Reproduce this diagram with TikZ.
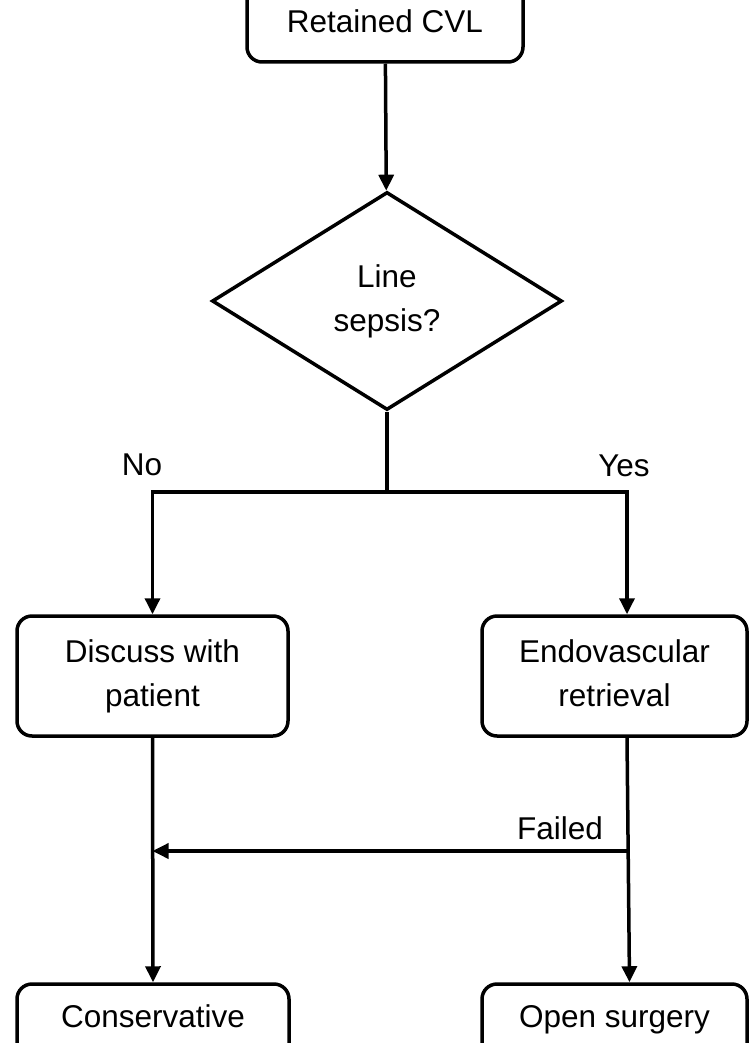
\documentclass[tikz,border=0pt]{standalone}
\usepackage{fontspec}
\setmainfont{Liberation Sans}
\usetikzlibrary{arrows.meta,shapes.geometric}

\newcommand{\bxstrut}{\rule[-7pt]{0pt}{30pt}}

\begin{document}
\begin{tikzpicture}[x=1pt,y=-1pt,->,>={Triangle[length=16pt,width=15pt]},
    line width=3.5pt,
    main node/.style={rectangle,rounded corners=15pt,draw,align=center,
      font=\fontsize{31.5}{44}\selectfont,inner sep=0pt},
    end node/.style={main node,text height=22pt,text depth=36pt,
      minimum height=100pt},
    decision node/.style={diamond,draw,align=center,
      font=\fontsize{31.5}{44}\selectfont,inner sep=0pt,
      minimum width=350pt,minimum height=218pt},
    label node/.style={font=\fontsize{31.5}{36}\selectfont,inner sep=0pt}]
  \useasboundingbox (0,0) rectangle (748,1043);

  \node[main node,minimum width=276pt,minimum height=120pt,
    text height=80pt,text depth=18pt] (CVL) at (385,2) {Retained CVL};
  \node[decision node] (SEP) at (387,301) {\bxstrut Line\\\bxstrut sepsis?};
  \node[main node,minimum width=271pt,minimum height=120pt] (DIS) at (152.5,676)
    {\bxstrut Discuss with\\\bxstrut patient};
  \node[main node,minimum width=265pt,minimum height=120pt] (END) at (614.5,676)
    {\bxstrut Endovascular\\\bxstrut retrieval};
  \node[end node,minimum width=272pt] (CON) at (153,1034) {Conservative};
  \node[end node,minimum width=265pt] (OPS) at (614.5,1034) {Open surgery};
  %% labels
  \node[label node] (NO) at (142,465) {No};
  \node[label node] (YES) at (624,466) {Yes};
  \node[label node] (FL) at (560,828) {Failed};
  \coordinate (SPL) at (387,492);
  \coordinate (RX) at (627,492);
  \coordinate (RXB) at (629.5,984);
  \coordinate (FX) at (627.5,851);

  \draw (CVL) -- (SEP);
  \draw[-] (SEP.south) -- (SPL);
  \draw (SPL) -| (DIS.north);
  \draw (SPL) -- (RX) -- (END.north -| RX);
  \draw (DIS.south) -- (CON.north);
  \draw (END.south -| RX) -- (OPS.north -| RXB);
  \draw (FX) -- (FX -| DIS);
\end{tikzpicture}
\end{document}
